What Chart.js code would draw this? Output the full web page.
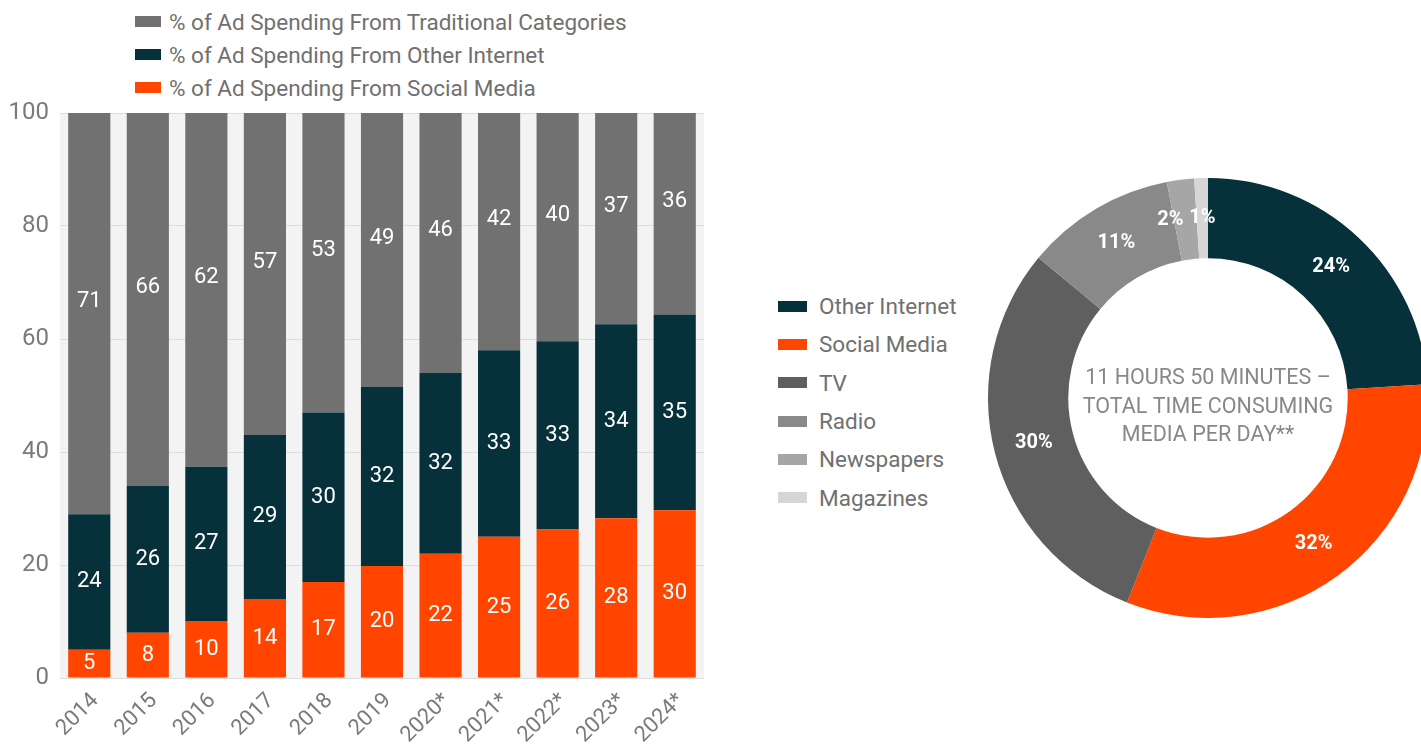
<!DOCTYPE html>
<html>
<head>
<meta charset="utf-8">
<script src="https://cdn.jsdelivr.net/npm/chart.js@4"></script>
<style>
  html, body { margin: 0; padding: 0; background: #fff; overflow: hidden; width: 1421px; height: 750px; }
  body { position: relative; font-family: Roboto, "Open Sans", sans-serif; }
  .box { position: absolute; }
  .legend { position: absolute; color: #707070; font-size: 22.5px; }
  .legend div { display: flex; align-items: center; white-space: nowrap; }
  .legend span.sw { display: inline-block; height: 11px; }
</style>
</head>
<body>
<div id="barLegend" class="legend" style="left:135px; top:5px;"></div>
<div class="box" style="left:0; top:100px; width:710px; height:650px;">
  <canvas id="barChart"></canvas>
</div>
<div id="mediaLegend" class="legend" style="left:778px; top:287px;"></div>
<div class="box" style="left:988px; top:178px; width:440px; height:440px;">
  <canvas id="mediaChart"></canvas>
</div>
<script>
// Ad spending share by year (stacked, %)
const years = ["2014", "2015", "2016", "2017", "2018", "2019", "2020*", "2021*", "2022*", "2023*", "2024*"];
const socialMedia = [5, 8, 10, 14, 17, 20, 22, 25, 26, 28, 30];
const otherInternet = [24, 26, 27, 29, 30, 32, 32, 33, 33, 34, 35];
const traditional = [71, 66, 62, 57, 53, 49, 46, 42, 40, 37, 36];
const yTicks = [0, 20, 40, 60, 80, 100];

// Time spent consuming media per day (%)
const mediaLabels = ["Other Internet", "Social Media", "TV", "Radio", "Newspapers", "Magazines"];
const mediaShare = [24, 32, 30, 11, 2, 1];
const centerText = ["11 HOURS 50 MINUTES \u2013", "TOTAL TIME CONSUMING", "MEDIA PER DAY**"];

const DARK = "#06313a";
const ORANGE = "#ff4500";
const GREY = "#717171";
const mediaColors = [DARK, ORANGE, "#5f5f5f", "#898989", "#a6a6a6", "#d6d6d6"];

const barSeries = [
  { label: "% of Ad Spending From Social Media", data: socialMedia, color: ORANGE },
  { label: "% of Ad Spending From Other Internet", data: otherInternet, color: DARK },
  { label: "% of Ad Spending From Traditional Categories", data: traditional, color: GREY },
];

// the published chart is a 100% stack: rounded shares are scaled to fill each column
const yearTotals = years.map((_, j) => barSeries.reduce((sum, s) => sum + s.data[j], 0));

function makeLegend(el, items, boxW, gap) {
  el.innerHTML = items
    .map(
      (it) =>
        `<div style="height:${it.h}px"><span class="sw" style="width:${boxW}px;margin-right:${gap}px;background:${it.color}"></span>${it.label}</div>`
    )
    .join("");
}

makeLegend(
  document.getElementById("barLegend"),
  barSeries.slice().reverse().map((s) => ({ label: s.label, color: s.color, h: 33 })),
  26,
  8
);
makeLegend(
  document.getElementById("mediaLegend"),
  mediaLabels.map((l, i) => ({ label: l, color: mediaColors[i], h: 38.3 })),
  29,
  12
);

// light grey plot background
const plotBg = {
  id: "plotBg",
  beforeDraw(chart) {
    const { ctx, chartArea: a } = chart;
    ctx.save();
    ctx.fillStyle = "#f3f3f3";
    ctx.fillRect(a.left, a.top, a.right - a.left, a.bottom - a.top);
    ctx.restore();
  },
};

// value labels inside each stacked segment
const barLabels = {
  id: "barLabels",
  afterDatasetsDraw(chart) {
    const ctx = chart.ctx;
    const top = chart.chartArea.top;
    ctx.save();
    ctx.font = "22px Roboto";
    ctx.fillStyle = "#ffffff";
    ctx.textAlign = "center";
    ctx.textBaseline = "middle";
    const last = chart.data.datasets.length - 1;
    chart.data.datasets.forEach((ds, i) => {
      chart.getDatasetMeta(i).data.forEach((bar, j) => {
        const y1 = Math.max(bar.y, top);
        let y = (y1 + bar.base) / 2;
        if (i === last) y -= 12;
        ctx.fillText(String(ds.raw[j]), bar.x, y);
      });
    });
    ctx.restore();
  },
};

new Chart(document.getElementById("barChart"), {
  type: "bar",
  data: {
    labels: years,
    datasets: barSeries.map((s) => ({
      label: s.label,
      raw: s.data,
      data: s.data.map((v, j) => (v * 100) / yearTotals[j]),
      backgroundColor: s.color,
      borderWidth: 0,
      categoryPercentage: 1,
      barPercentage: 0.72,
    })),
  },
  options: {
    responsive: true,
    maintainAspectRatio: false,
    animation: false,
    layout: { padding: { top: 0, right: 6, left: 0, bottom: 0 } },
    plugins: { legend: { display: false }, tooltip: { enabled: false } },
    scales: {
      x: {
        stacked: true,
        grid: { display: false },
        border: { display: false },
        ticks: {
          color: "#7a7a7a",
          font: { family: "Roboto", size: 22 },
          minRotation: 45,
          maxRotation: 45,
          padding: 2,
          labelOffset: 6,
        },
        afterFit(scale) { scale.height = 72; },
      },
      y: {
        stacked: true,
        min: 0,
        max: 100,
        afterBuildTicks(scale) { scale.ticks = yTicks.map((v) => ({ value: v })); },
        grid: { color: "#dddddd", drawTicks: false },
        border: { display: false },
        ticks: { color: "#7a7a7a", font: { family: "Roboto", size: 24 }, padding: 11 },
        afterFit(scale) {
          scale.width = 60;
          scale.paddingTop = 13;
          scale.paddingBottom = 0;
        },
      },
    },
  },
  plugins: [plotBg, barLabels],
});

// percent labels on the ring and the text in the hole
const ringLabels = {
  id: "ringLabels",
  afterDatasetsDraw(chart) {
    const ctx = chart.ctx;
    const meta = chart.getDatasetMeta(0);
    const data = chart.data.datasets[0].data;
    ctx.save();
    ctx.font = "bold 20px Roboto";
    ctx.fillStyle = "#ffffff";
    ctx.textBaseline = "middle";
    meta.data.forEach((arc, i) => {
      const p = arc.tooltipPosition();
      const small = data[i] < 3 && i < data.length - 1;
      ctx.textAlign = small ? "right" : "center";
      ctx.fillText(data[i] + "%", p.x - (small ? 2 : 0), p.y);
    });
    const c = meta.data[0];
    ctx.font = "21.5px Roboto";
    ctx.fillStyle = "#888888";
    ctx.textAlign = "center";
    centerText.forEach((t, i) => {
      ctx.fillText(t, c.x, c.y - 19 + i * 28.5);
    });
    ctx.restore();
  },
};

new Chart(document.getElementById("mediaChart"), {
  type: "doughnut",
  data: {
    labels: mediaLabels,
    datasets: [{ data: mediaShare, backgroundColor: mediaColors, borderWidth: 0 }],
  },
  options: {
    responsive: true,
    maintainAspectRatio: false,
    animation: false,
    cutout: "63.5%",
    layout: { padding: 0 },
    plugins: { legend: { display: false }, tooltip: { enabled: false } },
  },
  plugins: [ringLabels],
});
</script>
</body>
</html>
